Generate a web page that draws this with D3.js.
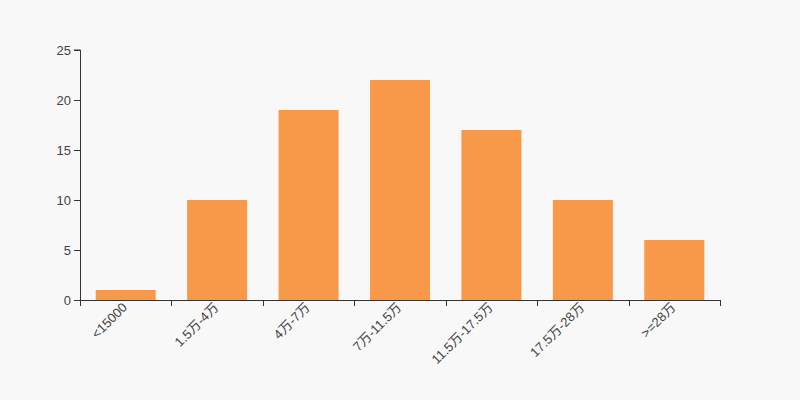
<!DOCTYPE html>
<html><head><meta charset="utf-8">
<script src="https://cdn.jsdelivr.net/npm/d3@7"></script>
<style>
html,body{margin:0;padding:0;background:#f8f8f8;}
svg{display:block;font-family:"Liberation Sans","Noto Sans CJK SC",Arial,sans-serif;}
</style></head>
<body><svg id="c" width="800" height="400"></svg>
<script>
const categories = ["<15000","1.5万-4万","4万-7万","7万-11.5万","11.5万-17.5万","17.5万-28万",">=28万"];
const values = [1,10,19,22,17,10,6];
const yTicks = [0,5,10,15,20,25];

const svg = d3.select("#c");
svg.append("rect").attr("width",800).attr("height",400).attr("fill","#f8f8f8");
const m = {l:80, r:80, t:50, b:100};
const W = 800 - m.l - m.r, H = 400 - m.t - m.b;
const g = svg.append("g").attr("transform",`translate(${m.l},${m.t})`);
const x = d3.scaleBand().domain(categories).range([0,W]).paddingInner(0.344).paddingOuter(0.172);
const xb = d3.scaleBand().domain(categories).range([0,W]);
const y = d3.scaleLinear().domain([0,25]).range([H,0]);

g.selectAll("rect.bar").data(values).enter().append("rect")
  .attr("class","bar")
  .attr("x",(d,i)=>x(categories[i]))
  .attr("width",x.bandwidth())
  .attr("y",d=>y(d))
  .attr("height",d=>H-y(d))
  .attr("fill","#f89849");

// y axis
const ya = g.append("g").call(d3.axisLeft(y).tickValues(yTicks).tickSize(6).tickPadding(3));
ya.select(".domain").attr("stroke","#333").attr("d",`M-6,${y(25)}H0.5V${H}`);
ya.selectAll(".tick line").attr("stroke","#333");
ya.selectAll(".tick text").attr("fill","#444").attr("font-size",13);

// x axis
const xa = g.append("g").attr("transform",`translate(0,${H})`);
xa.append("line").attr("x1",0).attr("x2",W).attr("y1",0.5).attr("y2",0.5).attr("stroke","#333");
const bounds = categories.map(c=>xb(c)).concat([W]);
xa.selectAll("line.tk").data(bounds).enter().append("line")
  .attr("x1",d=>Math.round(d)+0.5).attr("x2",d=>Math.round(d)+0.5)
  .attr("y1",0).attr("y2",6).attr("stroke","#333");
xa.selectAll("text").data(categories).enter().append("text")
  .attr("transform",d=>`translate(${xb(d)+xb.bandwidth()/2-1},${5}) rotate(-45)`)
  .attr("text-anchor","end").attr("dy","0.35em")
  .attr("fill","#444").attr("font-size",13).text(d=>d);
</script></body></html>
